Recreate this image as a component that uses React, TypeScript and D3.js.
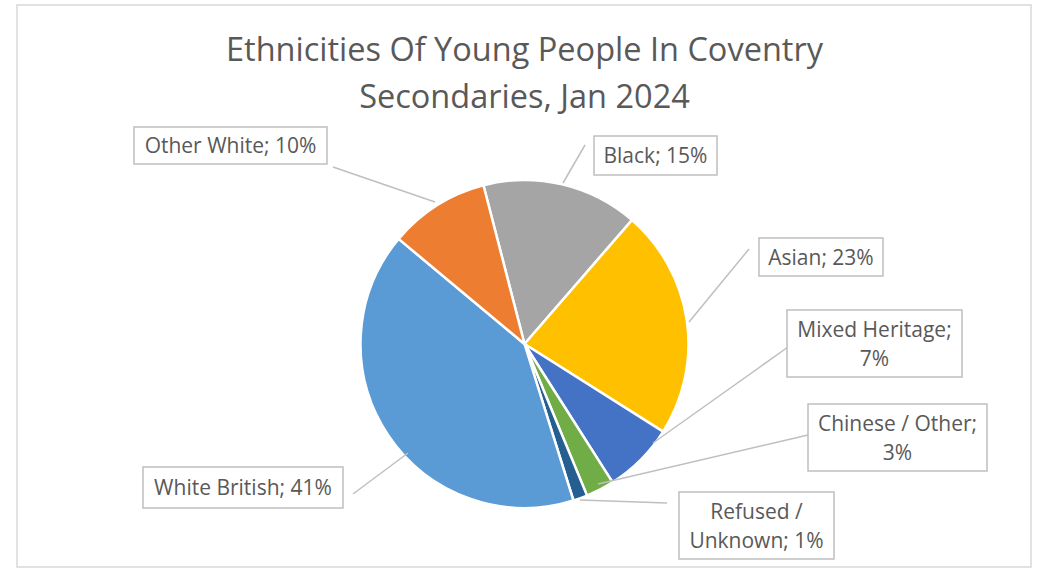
import React from "react";
import * as d3 from "d3";

const categories = ["Black", "Asian", "Mixed Heritage", "Chinese / Other", "Refused / Unknown", "White British", "Other White"];
const values = [15.4, 22.6, 7.0, 2.8, 1.4, 40.9, 9.9];
const colors = ["#A5A5A5", "#FFC000", "#4472C4", "#70AD47", "#255E91", "#5B9BD5", "#ED7D31"];
const titleLines = ["Ethnicities Of Young People In Coventry", "Secondaries, Jan 2024"];

// label layout: box [x0, y0, x1, y1], text lines split, leader start point, leader end point
const labelBoxes = [
  { box: [594, 136, 717, 175], lines: (n: string, p: string) => [`${n}; ${p}`], from: [585, 145], to: [563, 183] },
  { box: [759, 238, 883, 276], lines: (n: string, p: string) => [`${n}; ${p}`], from: [749, 249], to: [689, 322] },
  { box: [787, 310, 962, 377], lines: (n: string, p: string) => [`${n};`, p], from: [788, 347], to: [653, 443] },
  { box: [808, 404, 987, 471], lines: (n: string, p: string) => [`${n};`, p], from: [808, 435], to: [598, 484] },
  { box: [679, 492, 834, 559], lines: (n: string, p: string) => ["Refused /", `Unknown; ${p}`], from: [667, 503], to: [580, 500] },
  { box: [143, 467, 343, 508], lines: (n: string, p: string) => [`${n}; ${p}`], from: [353, 494], to: [408, 453] },
  { box: [134, 127, 327, 164], lines: (n: string, p: string) => [`${n}; ${p}`], from: [333, 167], to: [435, 202] },
];

const W = 1038;
const H = 569;
const cx = 524.5;
const cy = 344;
const R = 164;
const FONT = "'Open Sans', sans-serif";

export default function App() {
  const total = d3.sum(values);
  const pie = d3
    .pie<number>()
    .sort(null)
    .startAngle((-14.5 * Math.PI) / 180)
    .endAngle((-14.5 * Math.PI) / 180 + 2 * Math.PI)
    .value((d) => d);
  const arcs = pie(values);
  const arc = d3.arc<d3.PieArcDatum<number>>().innerRadius(0).outerRadius(R);

  return (
    <svg width={W} height={H} style={{ position: "absolute", left: 0, top: 0 }}>
      <rect x={0} y={0} width={W} height={H} fill="#fff" />
      <rect x={17} y={5} width={1014} height={562} fill="#fff" stroke="#d9d9d9" strokeWidth={1.5} />
      {titleLines.map((t, i) => (
        <text
          key={i}
          x={cx}
          y={61 + i * 47}
          textAnchor="middle"
          fontFamily={FONT}
          fontSize={32.5}
          fill="#595959"
        >
          {t}
        </text>
      ))}
      <g transform={`translate(${cx},${cy})`}>
        {arcs.map((a, i) => (
          <path key={i} d={arc(a) || ""} fill={colors[i]} stroke="#fff" strokeWidth={2.5} strokeLinejoin="round" />
        ))}
      </g>
      {arcs.map((a, i) => {
        const L = labelBoxes[i];
        return (
          <line
            key={"l" + i}
            x1={L.from[0]}
            y1={L.from[1]}
            x2={L.to[0]}
            y2={L.to[1]}
            stroke="#bfbfbf"
            strokeWidth={1.5}
          />
        );
      })}
      {arcs.map((a, i) => {
        const L = labelBoxes[i];
        const [x0, y0, x1, y1] = L.box;
        const pct = `${Math.round((values[i] / total) * 100)}%`;
        const lines = L.lines(categories[i], pct);
        const mx = (x0 + x1) / 2;
        const my = (y0 + y1) / 2;
        const lh = 29;
        return (
          <g key={"b" + i}>
            <rect x={x0} y={y0} width={x1 - x0} height={y1 - y0} fill="#fff" stroke="#bfbfbf" strokeWidth={1.5} />
            {lines.map((s, j) => (
              <text
                key={j}
                x={mx}
                y={my + (j - (lines.length - 1) / 2) * lh + 7.5}
                textAnchor="middle"
                fontFamily={FONT}
                fontSize={21}
                fill="#595959"
              >
                {s}
              </text>
            ))}
          </g>
        );
      })}
    </svg>
  );
}
